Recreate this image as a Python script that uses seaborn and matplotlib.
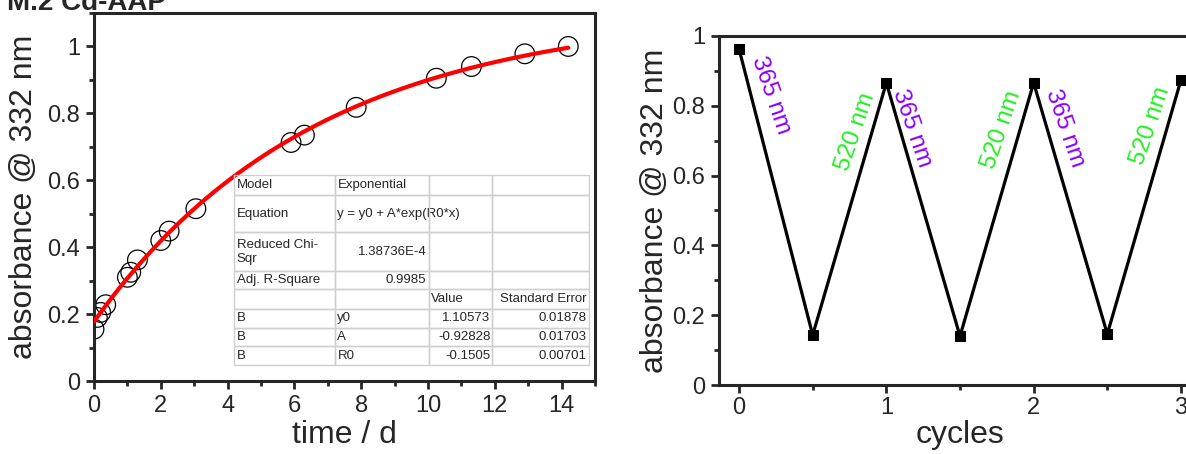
import numpy as np
import pandas as pd
import matplotlib
matplotlib.use("Agg")
import matplotlib.pyplot as plt
from matplotlib.table import Table
from matplotlib.ticker import MultipleLocator
import seaborn as sns

# =========================
# Datos
# =========================
# panel izquierdo: absorbancia vs tiempo
time_d = [0.0, 0.1, 0.2, 0.35, 1.0, 1.1, 1.3, 2.0, 2.25, 3.05,
          5.9, 6.3, 7.85, 10.25, 11.3, 12.9, 14.2]
absorb = [0.155, 0.19, 0.205, 0.228, 0.31, 0.325, 0.362, 0.42, 0.448, 0.515,
          0.713, 0.735, 0.818, 0.905, 0.94, 0.978, 1.0]

# parametros del ajuste (tabla del grafico)
fit_y0 = 1.10573
fit_A = -0.92828
fit_R0 = -0.1505

table_rows = [
    ["Model", "Exponential", "", ""],
    ["Equation", "y = y0 + A*exp(R0*x)", "", ""],
    ["Reduced Chi-\nSqr", "1.38736E-4", "", ""],
    ["Adj. R-Square", "0.9985", "", ""],
    ["", "", "Value", "Standard Error"],
    ["B", "y0", "1.10573", "0.01878"],
    ["B", "A", "-0.92828", "0.01703"],
    ["B", "R0", "-0.1505", "0.00701"],
]

# panel derecho: ciclos de irradiacion
cycles = [0, 0.5, 1, 1.5, 2, 2.5, 3]
cyc_abs = [0.963, 0.143, 0.866, 0.14, 0.866, 0.146, 0.874]
lbl_365_pos = [(0.215, 0.83), (1.175, 0.736), (2.21, 0.736)]
lbl_520_pos = [(0.79, 0.725), (1.785, 0.73), (2.79, 0.742)]

# =========================
# Estilo
# =========================
sns.set_style("ticks")
plt.rcParams["font.family"] = ["Liberation Sans", "DejaVu Sans"]
plt.rcParams["axes.linewidth"] = 2.2

fig = plt.figure(figsize=(11.86, 4.54), dpi=100)
ax1 = fig.add_axes([94 / 1186, 73 / 454, 501 / 1186, 368 / 454])
ax2 = fig.add_axes([719 / 1186, 69 / 454, 482 / 1186, 349 / 454])

# titulo recortado por el borde superior, como en el original
fig.text(0.006, 0.979, "M.2 Cd-AAP", fontsize=20, fontweight="bold",
         ha="left", va="baseline")

# =========================
# Panel izquierdo
# =========================
df1 = pd.DataFrame({"t": time_d, "a": absorb})
sns.scatterplot(data=df1, x="t", y="a", ax=ax1, marker="o", s=200,
                facecolor="none", edgecolor="black", linewidth=0.9, zorder=2)

xfit = np.linspace(0, max(time_d), 200)
df_fit = pd.DataFrame({"t": xfit, "a": fit_y0 + fit_A * np.exp(fit_R0 * xfit)})
sns.lineplot(data=df_fit, x="t", y="a", ax=ax1, color="#ff0000", lw=3, zorder=3)

ax1.set_xlim(0, 15)
ax1.set_ylim(0, 1.1)
ax1.xaxis.set_major_locator(MultipleLocator(2))
ax1.xaxis.set_minor_locator(MultipleLocator(1))
ax1.set_yticks([0, 0.2, 0.4, 0.6, 0.8, 1.0], ["0", "0.2", "0.4", "0.6", "0.8", "1"])
ax1.yaxis.set_minor_locator(MultipleLocator(0.1))
ax1.set_xlabel("time / d", fontsize=23, labelpad=2)
ax1.set_ylabel("absorbance @ 332 nm", fontsize=23, labelpad=6)

# tabla del ajuste
col_w = [101, 95, 63, 97]
row_h = [20, 38, 39, 18, 20, 19, 19, 19]
tb = Table(ax1, bbox=[0.279, 0.043, 0.709, 0.517])
for r, row in enumerate(table_rows):
    for c, txt in enumerate(row):
        loc = "left"
        if r >= 5 and c >= 2:
            loc = "right"
        if r in (2, 3) and c == 1:
            loc = "right"
        if r == 4 and c == 3:
            loc = "right"
        cell = tb.add_cell(r, c, width=col_w[c], height=row_h[r], text=txt,
                           loc=loc, edgecolor="#cfcfcf", facecolor="none")
        cell.get_text().set_fontsize(9.5)
        cell.get_text().set_clip_on(False)
        cell.PAD = 0.03
tb.auto_set_font_size(False)
tb.set_zorder(4)
ax1.add_table(tb)

# =========================
# Panel derecho
# =========================
df2 = pd.DataFrame({"c": cycles, "a": cyc_abs})
sns.lineplot(data=df2, x="c", y="a", ax=ax2, color="black", lw=2.3,
             marker="s", markersize=6.5, markeredgecolor="black")

for x, y in lbl_365_pos:
    ax2.text(x, y, "365 nm", color="#8a00ff", fontsize=17.5, rotation=-71,
             ha="center", va="center", rotation_mode="anchor")
for x, y in lbl_520_pos:
    ax2.text(x, y, "520 nm", color="#22ee22", fontsize=17.5, rotation=71,
             ha="center", va="center", rotation_mode="anchor")

ax2.set_xlim(-0.136, 3.136)
ax2.set_ylim(0, 1)
ax2.xaxis.set_major_locator(MultipleLocator(1))
ax2.xaxis.set_minor_locator(MultipleLocator(0.5))
ax2.set_yticks([0, 0.2, 0.4, 0.6, 0.8, 1.0], ["0", "0.2", "0.4", "0.6", "0.8", "1"])
ax2.yaxis.set_minor_locator(MultipleLocator(0.1))
ax2.set_xlabel("cycles", fontsize=23, labelpad=0)
ax2.set_ylabel("absorbance @ 332 nm", fontsize=23, labelpad=2)

for ax in (ax1, ax2):
    for sp in ax.spines.values():
        sp.set_visible(True)
        sp.set_linewidth(2.2)
    ax.tick_params(which="major", direction="out", length=6, width=2,
                   labelsize=17, pad=4, top=False, right=False)
    ax.tick_params(which="minor", direction="out", length=3.5, width=2,
                   top=False, right=False)
ax2.tick_params(axis="x", pad=3)

fig.savefig("out.png", dpi=100)
